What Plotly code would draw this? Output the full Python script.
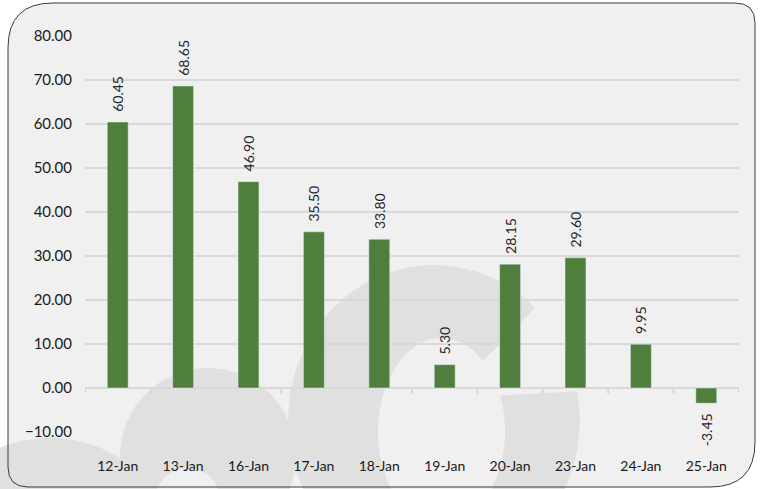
import plotly.graph_objects as go

categories = ["12-Jan", "13-Jan", "16-Jan", "17-Jan", "18-Jan", "19-Jan",
              "20-Jan", "23-Jan", "24-Jan", "25-Jan"]
values = [60.45, 68.65, 46.90, 35.50, 33.80, 5.30, 28.15, 29.60, 9.95, -3.45]

PAD = "\u00a0\u00a0"
labels = [(PAD + f"{v:.2f}") if v >= 0 else (f"{v:.2f}" + PAD) for v in values]

W, H = 763, 489
L, R, T, B = 85, 24, 36, 57
PW, PH = W - L - R, H - T - B


def px(x):
    return (x - L) / PW


def py(y):
    return (H - B - y) / PH


fig = go.Figure()
fig.add_trace(go.Bar(
    x=categories, y=values, marker_color="#507E3C", width=0.32,
    text=labels, textposition="outside", textangle=-90, constraintext="none",
    textfont=dict(family="Lato", size=14, color="#262626"),
    cliponaxis=False, hoverinfo="skip",
))

BG = "#F0F0F0"
WM = "#E0E0E0"
shapes = []
# rounded background panel
x0, x1, y0, y1, r = 8, 755, 3, 487, 45
path = (f"M {px(x0 + r)},{py(y0)} L {px(x1 - 20)},{py(y0)} "
        f"Q {px(x1)},{py(y0)} {px(x1)},{py(y0 + 20)} "
        f"L {px(x1)},{py(y1 - r)} Q {px(x1)},{py(y1)} {px(x1 - r)},{py(y1)} "
        f"L {px(x0 + 20)},{py(y1)} Q {px(x0)},{py(y1)} {px(x0)},{py(y1 - 20)} "
        f"L {px(x0)},{py(y0 + r)} Q {px(x0)},{py(y0)} {px(x0 + r)},{py(y0)} Z")
shapes.append(dict(type="path", xref="paper", yref="paper", path=path,
                   fillcolor=BG, line=dict(width=0), layer="below"))


def ell(xa, ya, xb, yb, color):
    return dict(type="circle", xref="paper", yref="paper",
                x0=px(xa), x1=px(xb), y0=py(yb), y1=py(ya),
                fillcolor=color, line=dict(width=0), layer="below")


def poly(pts, color):
    d = "M " + " L ".join(f"{px(a)},{py(b)}" for a, b in pts) + " Z"
    return dict(type="path", xref="paper", yref="paper", path=d,
                fillcolor=color, line=dict(width=0), layer="below")


# watermark logo (decorative)
shapes.append(ell(-50, 438, 150, 582, WM))
shapes.append(ell(120, 368, 296, 544, WM))
shapes.append(ell(155, 468, 220, 532, BG))
shapes.append(ell(288, 265, 580, 575, WM))
shapes.append(ell(378, 338, 505, 525, BG))
shapes.append(poly([(445, 400), (535, 308), (640, 300), (640, 388), (490, 396)], BG))
# border line on top of watermark
shapes.append(dict(type="path", xref="paper", yref="paper", path=path,
                   fillcolor="rgba(0,0,0,0)", line=dict(width=1, color="#3A3A3A"),
                   layer="below"))
# category tick marks on the zero line
for i in range(len(categories) + 1):
    shapes.append(dict(type="line", xref="x", yref="y", x0=i - 0.5, x1=i - 0.5,
                       y0=0, y1=-1.3, line=dict(color="#D9D9D9", width=2),
                       layer="below"))

fig.update_layout(
    width=W, height=H,
    margin=dict(l=L, r=R, t=T, b=B),
    paper_bgcolor="white", plot_bgcolor="rgba(0,0,0,0)",
    showlegend=False, bargap=0.68,
    shapes=shapes,
    font=dict(family="Lato", size=14, color="#1A1A1A"),
)
fig.update_xaxes(showgrid=False, showline=False, ticks="", ticklabelstandoff=24,
                 tickfont=dict(size=14), range=[-0.5, len(categories) - 0.5])
fig.update_yaxes(range=[-10, 80], dtick=10, tickformat=".2f",
                 gridcolor="#D9D9D9", gridwidth=2,
                 zeroline=True, zerolinecolor="#D9D9D9", zerolinewidth=2,
                 showline=False, ticks="", ticklabelstandoff=12,
                 tickfont=dict(size=15))

fig.write_html("out.html", config={"displayModeBar": False},
               post_script="document.body.style.margin='0';")
